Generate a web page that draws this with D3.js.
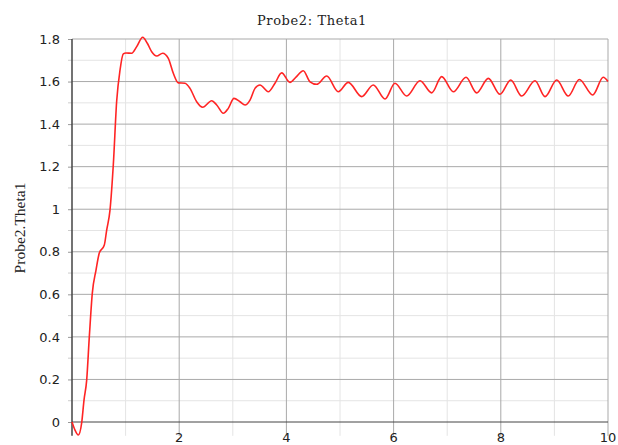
<!DOCTYPE html>
<html>
<head>
<meta charset="utf-8">
<script src="https://cdn.jsdelivr.net/npm/d3@7"></script>
<style>
  body { margin: 0; background: #fff; }
  svg { display: block; }
</style>
</head>
<body>
<svg id="chart" width="618" height="445"></svg>
<script>
// valores (tiempo, angulo)
const tiempo = [0, 0.056, 0.118, 0.181, 0.224, 0.274, 0.323, 0.379, 0.448, 0.509, 0.603, 0.647, 0.709, 0.771, 0.834, 0.896, 0.957, 1.007, 1.114, 1.207, 1.319, 1.405, 1.487, 1.58, 1.692, 1.797, 1.89, 1.983, 2.108, 2.201, 2.326, 2.438, 2.606, 2.70, 2.823, 2.916, 3.022, 3.134, 3.228, 3.321, 3.414, 3.507, 3.662, 3.787, 3.912, 4.067, 4.179, 4.315, 4.44, 4.565, 4.752, 4.968, 5.155, 5.405, 5.621, 5.84, 6.026, 6.244, 6.493, 6.711, 6.897, 7.114, 7.351, 7.55, 7.767, 7.985, 8.185, 8.39, 8.638, 8.825, 9.043, 9.259, 9.465, 9.715, 9.912, 10]
const theta = [0, -0.038, -0.061, -0.003, 0.103, 0.197, 0.40, 0.606, 0.714, 0.794, 0.832, 0.902, 0.996, 1.21, 1.51, 1.654, 1.73, 1.734, 1.733, 1.764, 1.808, 1.78, 1.74, 1.72, 1.733, 1.709, 1.639, 1.594, 1.592, 1.568, 1.505, 1.479, 1.51, 1.49, 1.451, 1.474, 1.521, 1.505, 1.49, 1.513, 1.568, 1.584, 1.552, 1.592, 1.641, 1.596, 1.621, 1.651, 1.599, 1.587, 1.626, 1.552, 1.596, 1.529, 1.584, 1.518, 1.592, 1.532, 1.604, 1.547, 1.623, 1.552, 1.62, 1.547, 1.615, 1.54, 1.607, 1.532, 1.604, 1.529, 1.607, 1.532, 1.61, 1.537, 1.62, 1.60]

const xMayor = [2, 4, 6, 8, 10]
const xMenor = [1, 3, 5, 7, 9]
const yMayor = [0, 0.2, 0.4, 0.6, 0.8, 1, 1.2, 1.4, 1.6, 1.8]
const yMenor = [0.1, 0.3, 0.5, 0.7, 0.9, 1.1, 1.3, 1.5, 1.7]

const titulo = 'Probe2: Theta1'
const etiquetaY = 'Probe2.Theta1'

const datos = tiempo.map((t, i) => ({t, v: theta[i]}))

const x = d3.scaleLinear().domain([0, 10]).range([72, 608])
const y = d3.scaleLinear().domain([0, 1.8]).range([422, 39])
const yFondo = y(-0.065)

const svg = d3.select('#chart')

// rejilla menor
svg.append('g').selectAll('line')
    .data(xMenor)
    .join('line')
    .attr('x1', d => x(d)).attr('x2', d => x(d))
    .attr('y1', y(1.8)).attr('y2', yFondo)
    .attr('stroke', '#e4e4e4')
svg.append('g').selectAll('line')
    .data(yMenor)
    .join('line')
    .attr('x1', x(0)).attr('x2', x(10))
    .attr('y1', d => y(d)).attr('y2', d => y(d))
    .attr('stroke', '#e4e4e4')

// rejilla mayor
svg.append('g').selectAll('line')
    .data(xMayor)
    .join('line')
    .attr('x1', d => x(d)).attr('x2', d => x(d))
    .attr('y1', y(1.8)).attr('y2', yFondo)
    .attr('stroke', '#a9a9a9')
svg.append('g').selectAll('line')
    .data(yMayor.filter(d => d > 0))
    .join('line')
    .attr('x1', x(0)).attr('x2', x(10))
    .attr('y1', d => y(d)).attr('y2', d => y(d))
    .attr('stroke', '#a9a9a9')

// eje x en cero
svg.append('line')
    .attr('x1', x(0)).attr('x2', x(10))
    .attr('y1', y(0)).attr('y2', y(0))
    .attr('stroke', '#444')

// eje y con marcas cortas
const ejeY = svg.append('g')
    .attr('transform', `translate(${x(0)},0)`)
    .call(d3.axisLeft(y).tickValues(yMayor).tickSize(4).tickPadding(8)
        .tickFormat(d3.format('~g')))
ejeY.select('.domain').remove()
ejeY.selectAll('.tick line').attr('stroke', '#999')
ejeY.selectAll('text')
    .attr('font-family', 'DejaVu Sans, sans-serif')
    .attr('font-size', 13)
    .attr('fill', '#222')
svg.append('g').selectAll('line')
    .data(yMenor)
    .join('line')
    .attr('x1', x(0) - 4).attr('x2', x(0))
    .attr('y1', d => y(d)).attr('y2', d => y(d))
    .attr('stroke', '#ccc')
svg.append('line')
    .attr('x1', x(0)).attr('x2', x(0))
    .attr('y1', y(1.8)).attr('y2', yFondo)
    .attr('stroke', '#444')
    .attr('stroke-width', 1.5)

// etiquetas x
svg.append('g').selectAll('text')
    .data(xMayor)
    .join('text')
    .attr('x', d => x(d))
    .attr('y', 442)
    .attr('text-anchor', 'middle')
    .attr('font-family', 'DejaVu Sans, sans-serif')
    .attr('font-size', 13)
    .attr('fill', '#222')
    .text(d => d)

// curva
const linea = d3.line()
    .x(d => x(d.t))
    .y(d => y(d.v))
    .curve(d3.curveMonotoneX)

svg.append('path')
    .datum(datos)
    .attr('d', linea)
    .attr('fill', 'none')
    .attr('stroke', '#ff2424')
    .attr('stroke-width', 1.6)

// titulos
svg.append('text')
    .attr('x', 312)
    .attr('y', 25)
    .attr('text-anchor', 'middle')
    .attr('font-family', 'DejaVu Serif, serif')
    .attr('font-size', 13)
    .attr('letter-spacing', 0.6)
    .attr('fill', '#222')
    .text(titulo)

svg.append('text')
    .attr('transform', 'translate(25,228) rotate(-90)')
    .attr('text-anchor', 'middle')
    .attr('font-family', 'Liberation Serif, serif')
    .attr('font-size', 15.5)
    .attr('fill', '#222')
    .text(etiquetaY)
</script>
</body>
</html>
